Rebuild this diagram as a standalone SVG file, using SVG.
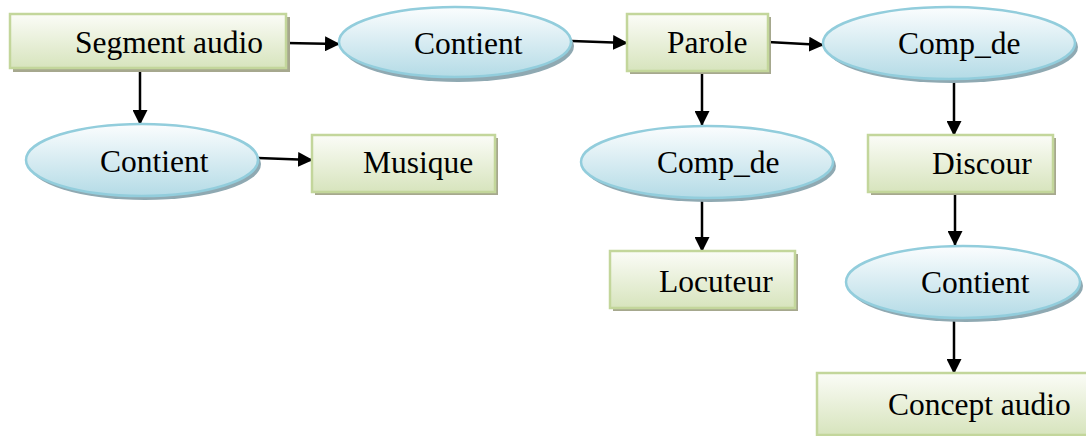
<svg xmlns="http://www.w3.org/2000/svg" width="1086" height="436" viewBox="0 0 1086 436">
  <style>
    .box { fill: url(#greenFill); stroke: #c3d69b; stroke-width: 2.5; }
    .boxShadow { fill: #a6a88e; }
    .oval { fill: url(#blueFill); stroke: #92cddc; stroke-width: 2.5; }
    .ovalShadow { fill: #8fa9b2; }
    .label { font-family: 'Liberation Serif', 'DejaVu Serif', serif; font-size: 31.5px; fill: #000; }
    .link { stroke: #000; stroke-width: 2.5; fill: none; }
  </style>
  <defs>
    <linearGradient id="greenFill" x1="0" y1="0" x2="0" y2="1">
      <stop offset="0" stop-color="#fbfcf7"/>
      <stop offset="1" stop-color="#d7e4bd"/>
    </linearGradient>
    <linearGradient id="blueFill" x1="0" y1="0" x2="0" y2="1">
      <stop offset="0" stop-color="#fbfdfe"/>
      <stop offset="1" stop-color="#b4dbe6"/>
    </linearGradient>
    <marker id="head" markerUnits="userSpaceOnUse" markerWidth="15" markerHeight="15" viewBox="0 0 15 15" refX="14" refY="7.5" orient="auto">
      <path d="M0,0 L15,7.5 L0,15 Z" fill="#000"/>
    </marker>
  </defs>

  <g id="connectors">
    <line class="link" marker-end="url(#head)" x1="286" y1="43" x2="339" y2="44"/>
    <line class="link" marker-end="url(#head)" x1="572" y1="41" x2="627" y2="43"/>
    <line class="link" marker-end="url(#head)" x1="768" y1="42" x2="823" y2="45"/>
    <line class="link" marker-end="url(#head)" x1="140" y1="69" x2="140" y2="124"/>
    <line class="link" marker-end="url(#head)" x1="258" y1="158" x2="312" y2="160"/>
    <line class="link" marker-end="url(#head)" x1="702" y1="72" x2="702" y2="125"/>
    <line class="link" marker-end="url(#head)" x1="954" y1="80" x2="954" y2="135"/>
    <line class="link" marker-end="url(#head)" x1="702" y1="198" x2="702" y2="251"/>
    <line class="link" marker-end="url(#head)" x1="955" y1="193" x2="955" y2="245"/>
    <line class="link" marker-end="url(#head)" x1="954" y1="319" x2="954" y2="373"/>
  </g>

  <g id="segment-audio">
    <rect class="boxShadow" x="13" y="17" width="277" height="55"/>
    <rect class="box" x="10" y="14" width="276" height="54"/>
    <text class="label" x="75" y="53">Segment audio</text>
  </g>

  <g id="contient-1">
    <ellipse class="ovalShadow" cx="458" cy="46" rx="116" ry="36"/>
    <ellipse class="oval" cx="455" cy="42" rx="116" ry="35"/>
    <text class="label" x="414" y="54">Contient</text>
  </g>

  <g id="parole">
    <rect class="boxShadow" x="630" y="17" width="141" height="57"/>
    <rect class="box" x="627" y="14" width="141" height="57"/>
    <text class="label" x="667" y="53">Parole</text>
  </g>

  <g id="comp-de-1">
    <ellipse class="ovalShadow" cx="952" cy="47" rx="126" ry="36"/>
    <ellipse class="oval" cx="949" cy="43" rx="126" ry="36"/>
    <text class="label" x="898" y="54">Comp_de</text>
  </g>

  <g id="contient-2">
    <ellipse class="ovalShadow" cx="145" cy="164" rx="116" ry="36"/>
    <ellipse class="oval" cx="142" cy="160" rx="116" ry="36"/>
    <text class="label" x="100" y="172">Contient</text>
  </g>

  <g id="musique">
    <rect class="boxShadow" x="315" y="138" width="183" height="57"/>
    <rect class="box" x="312" y="135" width="183" height="57"/>
    <text class="label" x="363" y="173">Musique</text>
  </g>

  <g id="comp-de-2">
    <ellipse class="ovalShadow" cx="710" cy="166" rx="126" ry="36"/>
    <ellipse class="oval" cx="707" cy="162" rx="126" ry="36"/>
    <text class="label" x="657" y="173">Comp_de</text>
  </g>

  <g id="discour">
    <rect class="boxShadow" x="871" y="138" width="185" height="57"/>
    <rect class="box" x="868" y="135" width="185" height="57"/>
    <text class="label" x="932" y="174">Discour</text>
  </g>

  <g id="locuteur">
    <rect class="boxShadow" x="613" y="254" width="185" height="57"/>
    <rect class="box" x="610" y="251" width="185" height="57"/>
    <text class="label" x="659" y="292">Locuteur</text>
  </g>

  <g id="contient-3">
    <ellipse class="ovalShadow" cx="966" cy="286" rx="117" ry="36"/>
    <ellipse class="oval" cx="963" cy="282" rx="117" ry="36"/>
    <text class="label" x="921" y="293">Contient</text>
  </g>

  <g id="concept-audio">
    <rect class="boxShadow" x="820" y="376" width="275" height="62"/>
    <rect class="box" x="817" y="373" width="275" height="62"/>
    <text class="label" x="888" y="415">Concept audio</text>
  </g>
</svg>
